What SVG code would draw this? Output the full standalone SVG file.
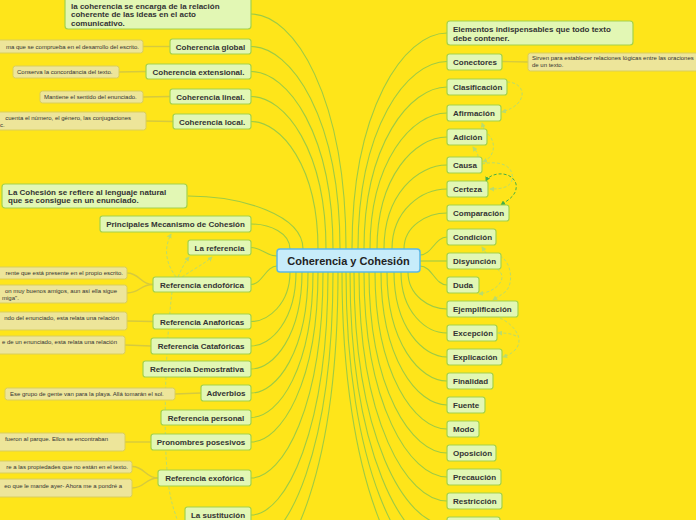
<svg xmlns="http://www.w3.org/2000/svg" width="696" height="520" viewBox="0 0 696 520">
<style>
.bg{fill:#FEE51A}
.c{fill:none;stroke:#9ECB45;stroke-width:1.1}
.lf{fill:none;stroke:#D6CA3E;stroke-width:1.4}
.d{fill:none;stroke:#B9DC6E;stroke-width:1;stroke-dasharray:3 2}
.dd{fill:none;stroke:#46AE47;stroke-width:1;stroke-dasharray:3 2}
.n rect{fill:#E2F7B4;stroke:#A3D24B;stroke-width:1.2}
.l rect{fill:#EDE59A;stroke:#D9CE5C;stroke-width:1}
.n text{font-family:"Liberation Sans",Arial,sans-serif;font-weight:bold;font-size:8px;fill:#333}
.l text{font-family:"Liberation Sans",Arial,sans-serif;font-size:6px;fill:#333}
.m{text-anchor:middle}
.e{text-anchor:end}
</style>
<defs>
<marker id="a" viewBox="0 0 6 6" refX="5" refY="3" markerWidth="5" markerHeight="5" orient="auto"><path d="M0,0 L6,3 L0,6 z" fill="#B9DC6E"/></marker>
<marker id="ad" viewBox="0 0 6 6" refX="5" refY="3" markerWidth="5" markerHeight="5" orient="auto"><path d="M0,0 L6,3 L0,6 z" fill="#46AE47"/></marker>
<marker id="as" viewBox="0 0 6 6" refX="1" refY="3" markerWidth="5" markerHeight="5" orient="auto"><path d="M6,0 L0,3 L6,6 z" fill="#46AE47"/></marker>
</defs>
<rect class="bg" x="0" y="0" width="696" height="520"/>
<g id="connectors">
<path class="c" d="M346,249 C346,96 294,14 251,14"/>
<path class="c" d="M340,249 C340,117 291,46.5 251,46.5"/>
<path class="c" d="M333,249 C333,134 288,71.5 251,71.5"/>
<path class="c" d="M326,249 C326,150 285,96.5 251,96.5"/>
<path class="c" d="M318,249 C318,166 281,121.5 251,121.5"/>
<path class="c" d="M303,249 C303,215 242,196 188,196"/>
<path class="c" d="M290,249 C290,233 270,224 251,224"/>
<path class="c" d="M277,256 C266,256 262,247.5 251,247.5"/>
<path class="c" d="M352,249 C352,109 404,33 447,33"/>
<path class="c" d="M358,249 C358,127 407,61.5 447,61.5"/>
<path class="c" d="M364,249 C364,144 410,87 447,87"/>
<path class="c" d="M370,249 C370,161 412,113 447,113"/>
<path class="c" d="M377,249 C377,176 415,137 447,137"/>
<path class="c" d="M384,249 C384,194 418,165 447,165"/>
<path class="c" d="M392,249 C392,210 422,189 447,189"/>
<path class="c" d="M404,249 C404,226 427,213 447,213"/>
<path class="c" d="M420,255 C432,255 435,237 447,237"/>
<path class="c" d="M420,261 L447,261"/>
<path class="c" d="M420,266 C432,266 435,285 447,285"/>
<path class="c" d="M408,272 C408,296 430,309 447,309"/>
<path class="c" d="M401,272 C401,312 426,333 447,333"/>
<path class="c" d="M394,272 C394,327 423,357 447,357"/>
<path class="c" d="M387,272 C387,343 420,381 447,381"/>
<path class="c" d="M381,272 C381,358 417,405 447,405"/>
<path class="c" d="M375,272 C375,374 415,429 447,429"/>
<path class="c" d="M369,272 C369,390 412,453 447,453"/>
<path class="c" d="M364,272 C364,405 410,477 447,477"/>
<path class="c" d="M359,272 C359,421 407,501 447,501"/>
<path class="c" d="M354,272 C354,436 405,525 447,525"/>
<path class="c" d="M350,272 C350,452 403,549 447,549"/>
<path class="c" d="M346,272 C346,468 402,573 447,573"/>
<path class="c" d="M342,272 C342,483 400,597 447,597"/>
<path class="c" d="M277,266 C266,266 262,284.5 251,284.5"/>
<path class="c" d="M290,272 C290,304 268,321.5 251,321.5"/>
<path class="c" d="M296,272 C296,320 271,346 251,346"/>
<path class="c" d="M302,272 C302,335 274,369 251,369"/>
<path class="c" d="M308,272 C308,351 277,393 251,393"/>
<path class="c" d="M313,272 C313,367 279,417.5 251,417.5"/>
<path class="c" d="M318,272 C318,383 281,442 251,442"/>
<path class="c" d="M323,272 C323,406 283,478 251,478"/>
<path class="c" d="M328,272 C328,430 286,515 251,515"/>
<path class="c" d="M333,272 C333,449 288,545 251,545"/>
<path class="c" d="M338,272 C338,469 290,575 251,575"/>
<path class="lf" d="M170,46.5 L143,46.5"/>
<path class="lf" d="M146,71.5 L119,72"/>
<path class="lf" d="M170,96.5 L143,97"/>
<path class="lf" d="M173,121.5 L146,121"/>
<path class="lf" d="M153,284.5 C140,284.5 140,273 127,273"/>
<path class="lf" d="M153,284.5 C140,284.5 140,293 127,293"/>
<path class="lf" d="M153,321.5 L127,321"/>
<path class="lf" d="M151,346 L125,345"/>
<path class="lf" d="M201,393 L175,394"/>
<path class="lf" d="M151,442 L125,442"/>
<path class="lf" d="M158,478 C145,478 145,466.5 132,466.5"/>
<path class="lf" d="M158,478 C145,478 145,488 132,488"/>
<path class="lf" d="M502,61.5 L528,62"/>
<path class="d" d="M176,277 C165,262 164,248 171,234" marker-end="url(#a)"/>
<path class="d" d="M178,277 C182,268 185,262 189,257" marker-end="url(#a)"/>
<path class="d" d="M182,277 C192,270 204,264 212,257" marker-end="url(#a)"/>
<path class="d" d="M172,292 C165,350 163,440 168,480 C170,500 174,510 178,522"/>
<path class="d" d="M507,82 C526,82 530,104 502,112" marker-end="url(#a)"/>
<path class="d" d="M484,129 L482,123" marker-end="url(#a)"/>
<path class="d" d="M478,157 C478,152 475,150 473,147" marker-end="url(#a)"/>
<path class="d" d="M488,134 C496,142 496,156 483,162" marker-end="url(#a)"/>
<path class="d" d="M482,164 C500,160 515,166 512,180 C510,188 500,189 490,189" marker-end="url(#a)"/>
<path class="dd" d="M486,181 C490,172 512,170 516,184 C518,195 508,200 501,205" marker-start="url(#as)" marker-end="url(#ad)"/>
<path class="d" d="M486,253 L482,247" marker-end="url(#a)"/>
<path class="d" d="M500,256 C512,262 514,285 505,292 C500,296 496,298 493,300" marker-end="url(#a)"/>
<path class="d" d="M497,269 C508,276 500,291 479,294" marker-end="url(#a)"/>
<path class="d" d="M500,318 C515,325 525,340 515,350 C510,355 506,356 503,357" marker-end="url(#a)"/>
<path class="d" d="M516,336 C510,333 504,333 498,333" marker-end="url(#a)"/>
</g>
<g id="center"><rect x="277" y="249" width="143" height="23" rx="3" fill="#C7ECFA" stroke="#5BB7E6" stroke-width="1.5"/><text x="348.5" y="265" text-anchor="middle" font-family="Liberation Sans, Arial, sans-serif" font-weight="bold" font-size="11px" fill="#222">Coherencia y Cohesión</text></g>
<g id="n-coh-def" class="n"><rect x="65" y="-3" width="186" height="32" rx="3"/><text x="71" y="8.5">la coherencia se encarga de la relación</text><text x="71" y="17">coherente de las ideas en el acto</text><text x="71" y="25.5">comunicativo.</text></g>
<g id="n-global" class="n"><rect x="170" y="39" width="81" height="15" rx="2.5"/><text class="m" x="210.5" y="49.5">Coherencia global</text></g>
<g id="n-extensional" class="n"><rect x="146" y="64" width="105" height="15" rx="2.5"/><text class="m" x="198.5" y="74.5">Coherencia extensional.</text></g>
<g id="n-lineal" class="n"><rect x="170" y="89" width="81" height="15" rx="2.5"/><text class="m" x="210.5" y="99.5">Coherencia lineal.</text></g>
<g id="n-local" class="n"><rect x="173" y="114" width="78" height="15" rx="2.5"/><text class="m" x="212" y="124.5">Coherencia local.</text></g>
<g id="n-cohesion" class="n"><rect x="2" y="184" width="185" height="24" rx="3"/><text x="8" y="194.5">La Cohesión se refiere al lenguaje natural</text><text x="8" y="203">que se consigue en un enunciado.</text></g>
<g id="n-principales" class="n"><rect x="100" y="216" width="151" height="16" rx="2.5"/><text class="m" x="175.5" y="227">Principales Mecanismo de Cohesión</text></g>
<g id="n-referencia" class="n"><rect x="188" y="240" width="63" height="15" rx="2.5"/><text class="m" x="219.5" y="250.5">La referencia</text></g>
<g id="n-endoforica" class="n"><rect x="153" y="277" width="98" height="15" rx="2.5"/><text class="m" x="202" y="287.5">Referencia endofórica</text></g>
<g id="n-anaforicas" class="n"><rect x="153" y="314" width="98" height="15" rx="2.5"/><text class="m" x="202" y="324.5">Referencia Anafóricas</text></g>
<g id="n-cataforicas" class="n"><rect x="151" y="338" width="100" height="16" rx="2.5"/><text class="m" x="201" y="349">Referencia Catafóricas</text></g>
<g id="n-demostrativa" class="n"><rect x="143" y="361" width="108" height="16" rx="2.5"/><text class="m" x="197" y="372">Referencia Demostrativa</text></g>
<g id="n-adverbios" class="n"><rect x="201" y="385" width="50" height="16" rx="2.5"/><text class="m" x="226" y="396">Adverbios</text></g>
<g id="n-personal" class="n"><rect x="161" y="410" width="90" height="15" rx="2.5"/><text class="m" x="206" y="420.5">Referencia personal</text></g>
<g id="n-posesivos" class="n"><rect x="151" y="434" width="100" height="16" rx="2.5"/><text class="m" x="201" y="445">Pronombres posesivos</text></g>
<g id="n-exoforica" class="n"><rect x="158" y="470" width="93" height="16" rx="2.5"/><text class="m" x="204.5" y="481">Referencia exofórica</text></g>
<g id="n-sustitucion" class="n"><rect x="185" y="507" width="66" height="16" rx="2.5"/><text class="m" x="218" y="518">La sustitución</text></g>
<g id="l-global" class="l"><rect x="-5" y="40" width="148" height="13" rx="2.5"/><text class="e" x="139" y="48.6">ma que se comprueba en el desarrollo del escrito.</text></g>
<g id="l-extensional" class="l"><rect x="13" y="66" width="106" height="12" rx="2.5"/><text x="17" y="73.8">Conserva la concordancia del texto.</text></g>
<g id="l-lineal" class="l"><rect x="40" y="91" width="103" height="12" rx="2.5"/><text x="44" y="99">Mantiene el sentido del enunciado.</text></g>
<g id="l-local" class="l"><rect x="-5" y="112" width="151" height="18" rx="2.5"/><text class="e" x="131" y="120">cuenta el número, el género, las conjugaciones</text><text x="0" y="127">c.</text></g>
<g id="l-endo1" class="l"><rect x="-5" y="267" width="132" height="12" rx="2.5"/><text class="e" x="123" y="275">rente que está presente en el propio escrito.</text></g>
<g id="l-endo2" class="l"><rect x="-5" y="285" width="132" height="18" rx="2.5"/><text class="e" x="117" y="293">on muy buenos amigos, aun así ella sigue</text><text x="2" y="300">miga".</text></g>
<g id="l-anaforicas" class="l"><rect x="-5" y="312" width="132" height="18" rx="2.5"/><text class="e" x="119" y="319.5">ndo del enunciado, esta relata una relación</text></g>
<g id="l-cataforicas" class="l"><rect x="-5" y="336" width="130" height="18" rx="2.5"/><text class="e" x="117" y="344">e de un enunciado, esta relata una relación</text></g>
<g id="l-adverbios" class="l"><rect x="5" y="388" width="170" height="12" rx="2.5"/><text x="10" y="396">Ese grupo de gente van para la playa. Allá tomarán el sol.</text></g>
<g id="l-posesivos" class="l"><rect x="-5" y="433" width="130" height="18" rx="2.5"/><text class="e" x="108" y="441">fueron al parque. Ellos se encontraban</text></g>
<g id="l-exo1" class="l"><rect x="-5" y="461" width="137" height="12" rx="2.5"/><text class="e" x="128" y="469">re a las propiedades que no están en el texto.</text></g>
<g id="l-exo2" class="l"><rect x="-5" y="479" width="137" height="18" rx="2.5"/><text class="e" x="122" y="488">eo que le mande ayer- Ahora me a pondré a</text></g>
<g id="n-elementos" class="n"><rect x="447" y="21" width="186" height="24" rx="3"/><text x="453" y="31.5">Elementos indispensables que todo texto</text><text x="453" y="40.5">debe contener.</text></g>
<g id="n-conectores" class="n"><rect x="447" y="54" width="55" height="16" rx="2.5"/><text x="453" y="65">Conectores</text></g>
<g id="l-conectores" class="l"><rect x="528" y="53" width="175" height="18" rx="2.5"/><text x="532" y="60">Sirven para establecer relaciones lógicas entre las oraciones</text><text x="532" y="67">de un texto.</text></g>
<g id="n-clasificacion" class="n"><rect x="447" y="79" width="60" height="16" rx="2.5"/><text x="453" y="90">Clasificación</text></g>
<g id="n-afirmacion" class="n"><rect x="447" y="105" width="54" height="16" rx="2.5"/><text x="453" y="116">Afirmación</text></g>
<g id="n-adicion" class="n"><rect x="447" y="129" width="40" height="16" rx="2.5"/><text x="453" y="140">Adición</text></g>
<g id="n-causa" class="n"><rect x="447" y="157" width="35" height="16" rx="2.5"/><text x="453" y="168">Causa</text></g>
<g id="n-certeza" class="n"><rect x="447" y="181" width="41" height="16" rx="2.5"/><text x="453" y="192">Certeza</text></g>
<g id="n-comparacion" class="n"><rect x="447" y="205" width="62" height="16" rx="2.5"/><text x="453" y="216">Comparación</text></g>
<g id="n-condicion" class="n"><rect x="447" y="229" width="49" height="16" rx="2.5"/><text x="453" y="240">Condición</text></g>
<g id="n-disyuncion" class="n"><rect x="447" y="253" width="54" height="16" rx="2.5"/><text x="453" y="264">Disyunción</text></g>
<g id="n-duda" class="n"><rect x="447" y="277" width="32" height="16" rx="2.5"/><text x="453" y="288">Duda</text></g>
<g id="n-ejemplificacion" class="n"><rect x="447" y="301" width="71" height="16" rx="2.5"/><text x="453" y="312">Ejemplificación</text></g>
<g id="n-excepcion" class="n"><rect x="447" y="325" width="50" height="16" rx="2.5"/><text x="453" y="336">Excepción</text></g>
<g id="n-explicacion" class="n"><rect x="447" y="349" width="55" height="16" rx="2.5"/><text x="453" y="360">Explicación</text></g>
<g id="n-finalidad" class="n"><rect x="447" y="373" width="46" height="16" rx="2.5"/><text x="453" y="384">Finalidad</text></g>
<g id="n-fuente" class="n"><rect x="447" y="397" width="38" height="16" rx="2.5"/><text x="453" y="408">Fuente</text></g>
<g id="n-modo" class="n"><rect x="447" y="421" width="32" height="16" rx="2.5"/><text x="453" y="432">Modo</text></g>
<g id="n-oposicion" class="n"><rect x="447" y="445" width="49" height="16" rx="2.5"/><text x="453" y="456">Oposición</text></g>
<g id="n-precaucion" class="n"><rect x="447" y="469" width="54" height="16" rx="2.5"/><text x="453" y="480">Precaución</text></g>
<g id="n-restriccion" class="n"><rect x="447" y="493" width="55" height="16" rx="2.5"/><text x="453" y="504">Restricción</text></g>
<g id="n-next" class="n"><rect x="447" y="517" width="53" height="16" rx="2.5"/></g>
</svg>
